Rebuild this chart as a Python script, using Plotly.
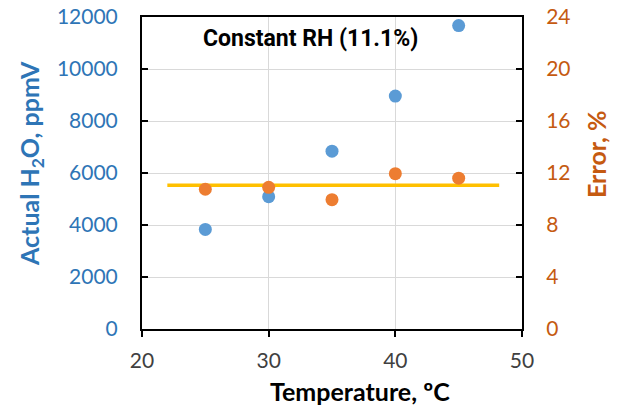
import plotly.graph_objects as go

temps = [25, 30, 35, 40, 45]
h2o_ppmv = [3830, 5090, 6840, 8960, 11670]
error_pct = [10.75, 10.9, 9.95, 11.95, 11.6]
avg_line_x = [22, 48.2]
avg_line_y = [11.05, 11.05]

x_ticks = [20, 30, 40, 50]
y1_ticks = [0, 2000, 4000, 6000, 8000, 10000, 12000]
y1_labels = ["0", "2000", "4000", "6000", "8000", "10000", "12000"]
y2_ticks = [0, 4, 8, 12, 16, 20, 24]

blue = "#5B9BD5"
orange = "#ED7D31"
yellow = "#FFC000"
blue_text = "#2E75B6"
orange_text = "#C55A11"
tick_font = "Lato, Carlito, Calibri, sans-serif"

fig = go.Figure()
fig.add_trace(go.Scatter(x=avg_line_x, y=avg_line_y, mode="lines",
                         line=dict(color=yellow, width=3.5), yaxis="y2", showlegend=False))
fig.add_trace(go.Scatter(x=temps, y=h2o_ppmv, mode="markers",
                         marker=dict(color=blue, size=13), showlegend=False))
fig.add_trace(go.Scatter(x=temps, y=error_pct, mode="markers",
                         marker=dict(color=orange, size=13), yaxis="y2", showlegend=False))

W, H = 619, 406
l, r, t, b = 142, 97, 17, 77
pw, ph = W - l - r, H - t - b
def px(xp): return (xp - l) / pw
def py(yp): return (H - b - yp) / ph

fig.update_layout(
    width=W, height=H,
    margin=dict(l=l, r=r, t=t, b=b, autoexpand=False),
    plot_bgcolor="white", paper_bgcolor="white",
    xaxis=dict(range=[20, 50], tickvals=x_ticks, showgrid=True, gridcolor="#D9D9D9",
               gridwidth=1, showline=True, linecolor="black", linewidth=2, mirror=True,
               ticks="outside", ticklen=6, tickwidth=2, tickcolor="black",
               tickfont=dict(family=tick_font, size=21, color="#404040"),
               ticklabelstandoff=6, zeroline=False, automargin=False),
    yaxis=dict(range=[0, 12000], tickvals=y1_ticks, ticktext=y1_labels, showgrid=True,
               gridcolor="#D9D9D9", gridwidth=1, showline=True, linecolor="black", linewidth=2,
               ticks="inside", ticklen=6, tickwidth=2, tickcolor="black",
               tickfont=dict(family=tick_font, size=21, color=blue_text),
               ticklabelstandoff=18, zeroline=False, automargin=False),
    yaxis2=dict(range=[0, 24], tickvals=y2_ticks, overlaying="y", side="right",
                showgrid=False, showline=True, linecolor="black", linewidth=2,
                ticks="inside", ticklen=6, tickwidth=2, tickcolor="black",
                tickfont=dict(family=tick_font, size=21, color=orange_text),
                ticklabelstandoff=18, zeroline=False, automargin=False),
)

fig.add_annotation(text="<b>Constant RH (11.1%)</b>", x=px(310), y=py(39), xref="paper", yref="paper",
                   showarrow=False, xanchor="center", yanchor="middle",
                   font=dict(family="Liberation Sans Narrow, Arial Narrow, Roboto, sans-serif",
                             size=23, color="black"))
fig.add_annotation(text="<b>Actual H<sub>2</sub>O, ppmV</b>", x=px(31), y=py(163), xref="paper", yref="paper",
                   showarrow=False, xanchor="center", yanchor="middle", textangle=-90,
                   font=dict(family=tick_font, size=25, color=blue_text))
fig.add_annotation(text="<b>Error, %</b>", x=px(596), y=py(155), xref="paper", yref="paper",
                   showarrow=False, xanchor="center", yanchor="middle", textangle=-90,
                   font=dict(family=tick_font, size=25, color=orange_text))
fig.add_annotation(text="<b>Temperature, ºC</b>", x=px(360), y=py(391), xref="paper", yref="paper",
                   showarrow=False, xanchor="center", yanchor="middle",
                   font=dict(family=tick_font, size=25, color="black"))

fig.write_html("out.html")
